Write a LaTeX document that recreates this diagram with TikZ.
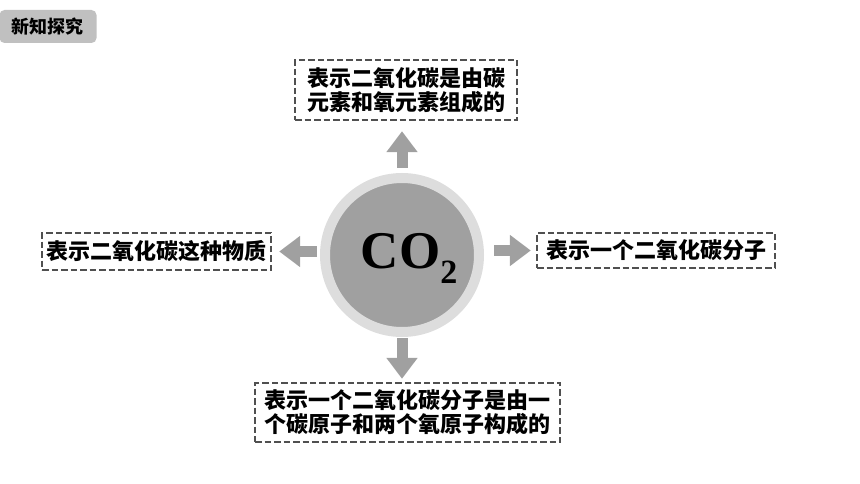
\documentclass[tikz,border=0pt]{standalone}
\usepackage{fontspec}
\setmainfont{Noto Sans CJK SC}[BoldFont={Noto Sans CJK SC Black}]
\newfontfamily\formulafont{Liberation Serif}
\usetikzlibrary{arrows.meta}
\definecolor{taggray}{HTML}{C0C0C0}
\definecolor{ringgray}{HTML}{DDDDDD}
\definecolor{coregray}{HTML}{A0A0A0}
\definecolor{arrowgray}{HTML}{A0A0A0}
\definecolor{dashgray}{HTML}{505050}

\begin{document}
\begin{tikzpicture}[x=1pt,y=-1pt]
    \tikzset{TagStyle/.style = {%
        fill=taggray, rounded corners=5pt, inner sep=0pt,
        minimum width=97pt, minimum height=33pt,
        font=\fontsize{18}{18}\selectfont\bfseries},
      CoreStyle/.style = {%
        circle, draw=ringgray, line width=10pt, fill=coregray,
        minimum size=154pt},
      BoxStyle/.style = {%
        draw=dashgray, line width=2.4pt, dash pattern=on 6.5pt off 3pt,
        align=center, inner sep=3pt,
        font=\fontsize{22}{24}\selectfont\bfseries},
      ArrowStyle/.style = {%
        draw=arrowgray, line width=11pt,
        -{Triangle[width=30pt,length=21pt]}}}
    \useasboundingbox (0,0) rectangle (860,484);
    \node[TagStyle] (tag) at (48,26.5) {新知探究};
    \node[CoreStyle] (co) at (402,255) {};
    \node[font=\formulafont\bfseries\fontsize{53}{53}\selectfont]
      (formula) at (409,258) {CO\raisebox{-15pt}{\fontsize{34}{34}\selectfont 2}};
    \node[BoxStyle,minimum width=222pt,minimum height=60pt] (top) at (406,90)
      {表示二氧化碳是由碳\\元素和氧元素组成的};
    \node[BoxStyle,minimum width=229pt,minimum height=37pt] (left) at (156.5,251.5)
      {表示二氧化碳这种物质};
    \node[BoxStyle,minimum width=238pt,minimum height=35pt] (right) at (656,250.5)
      {表示一个二氧化碳分子};
    \node[BoxStyle,minimum width=305pt,minimum height=59pt] (bottom) at (407.5,412.5)
      {表示一个二氧化碳分子是由一\\个碳原子和两个氧原子构成的};
    \draw[ArrowStyle,shorten <=5pt,shorten >=10pt] (co.north) -- (co.north |- top.south);
    \draw[ArrowStyle,shorten <=3pt,shorten >=7pt] (co.west |- left.east) -- (left.east);
    \draw[ArrowStyle,shorten <=10pt,shorten >=5pt] (co.east |- right.west) -- (right.west);
    \draw[ArrowStyle,shorten <=1pt,shorten >=3pt] (co.south) -- (co.south |- bottom.north);
\end{tikzpicture}
\end{document}
